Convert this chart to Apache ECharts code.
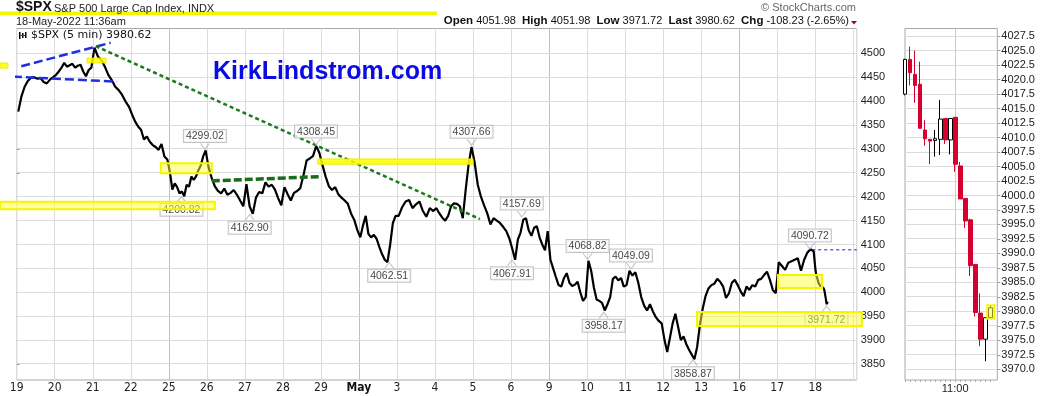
<!DOCTYPE html>
<html><head><meta charset="utf-8">
<script src="https://cdn.jsdelivr.net/npm/echarts@6/dist/echarts.min.js"></script>
<style>html,body{margin:0;padding:0;background:#fff}#c{width:1050px;height:396px}</style>
</head><body><div id="c"></div>
<script>
// ---------- DATA ----------
const tradingDays = ['04-19','04-20','04-21','04-22','04-25','04-26','04-27','04-28','04-29','05-02','05-03','05-04','05-05','05-06','05-09','05-10','05-11','05-12','05-13','05-16','05-17','05-18'];
const dayLabels = ['19','20','21','22','25','26','27','28','29','May','3','4','5','6','9','10','11','12','13','16','17','18'];

// intraday closes sampled evenly through each full session (Apr 19 .. May 17)
const priceByDay = [
  [4378, 4410, 4430, 4442, 4449, 4450, 4447, 4448, 4440, 4437, 4445, 4450],
  [4455, 4462, 4470, 4480, 4472, 4475, 4478, 4470, 4474, 4476, 4462, 4452, 4465, 4470],
  [4512, 4493, 4486, 4472, 4455, 4444, 4430, 4423, 4413, 4399, 4388],
  [4371, 4357, 4347, 4340, 4320, 4326, 4315, 4308, 4304, 4298, 4310, 4284, 4278],
  [4250, 4215, 4228, 4220, 4207, 4211, 4201, 4225, 4221, 4242, 4235, 4243, 4256, 4266, 4285, 4297],
  [4263, 4240, 4222, 4212, 4207, 4217, 4204, 4208, 4214, 4204, 4192, 4180],
  [4226, 4180, 4164, 4198, 4210, 4207, 4230, 4221, 4225, 4215, 4197, 4182],
  [4220, 4205, 4192, 4208, 4212, 4218, 4245, 4276, 4280, 4285, 4306, 4292],
  [4266, 4242, 4222, 4214, 4220, 4205, 4198, 4192, 4185, 4165, 4152, 4130],
  [4115, 4140, 4160, 4122, 4115, 4120, 4112, 4095, 4080, 4068, 4063, 4100, 4145, 4160],
  [4160, 4178, 4190, 4193, 4176, 4184, 4190, 4170, 4158, 4176, 4170],
  [4176, 4165, 4156, 4150, 4160, 4180, 4186, 4185, 4180, 4155, 4215, 4268, 4304],
  [4272, 4225, 4200, 4182, 4165, 4142, 4155, 4150, 4145, 4137, 4128, 4112],
  [4090, 4068, 4110, 4125, 4152, 4155, 4130, 4118, 4135, 4138, 4115, 4100, 4088, 4128],
  [4068, 4050, 4032, 4015, 4012, 4030, 4040, 4020, 4013, 4016, 4022, 4000, 3982, 3990],
  [4066, 4045, 4010, 3985, 3982, 3978, 3962, 3975, 3990, 4028, 4033, 4025, 4030, 4012],
  [4015, 4045, 4035, 4042, 4020, 3990, 3972, 3962, 3975, 3960, 3948, 3940, 3935],
  [3900, 3875, 3905, 3935, 3955, 3928, 3900, 3908, 3892, 3880, 3870, 3860, 3885, 3930],
  [3965, 3992, 4008, 4015, 4018, 4028, 4022, 4012, 3988, 3998, 4020, 4026, 4015],
  [4002, 3992, 4012, 4005, 4015, 4012, 4026, 4028, 4036, 4043, 4026, 4005, 3998],
  [4063, 4055, 4047, 4062, 4065, 4068, 4071, 4045, 4068, 4083, 4090, 4086]
];
// May 18 5-min closes before the zoom panel starts
const may18EarlyTimes = ['09:30','09:35','09:40','09:45','09:50','09:55','10:00','10:05'];
const may18EarlyCloses = [4046, 4040, 4036, 4031, 4028, 4025, 4020, 4018];

// 5-min candles of the right-hand panel (May 18)
const panelTimes = ['10:10','10:15','10:20','10:25','10:30','10:35','10:40','10:45','10:50','10:55','11:00','11:05','11:10','11:15','11:20','11:25','11:30','11:35'];
const panelOpen  = [4017.5, 4023.5, 4020.9, 4019.2, 4011.3, 4009.7, 4009.5, 4009.7, 4013.3, 4009.6, 4013.5, 4005.1, 3999.5, 3995.8, 3988.1, 3979.7, 3975.2, 3978.9];
const panelClose = [4023.5, 4021.2, 4019.0, 4011.6, 4009.8, 4009.4, 4009.8, 4013.2, 4009.6, 4013.3, 4005.4, 3999.4, 3995.6, 3987.9, 3979.8, 3975.2, 3978.9, 3980.62];
const panelLow   = [4017.3, 4019.0, 4016.0, 4011.6, 4008.6, 4005.4, 4006.7, 4007.0, 4008.9, 4007.1, 4004.1, 3999.4, 3994.4, 3986.1, 3979.1, 3974.0, 3971.4, 3978.9];
const panelHigh  = [4023.6, 4025.7, 4025.0, 4023.1, 4013.0, 4009.7, 4011.3, 4016.5, 4013.3, 4013.3, 4013.5, 4005.8, 3999.5, 3996.0, 3988.1, 3983.1, 3978.9, 3981.1];

const mainTicks = [3850, 3900, 3950, 4000, 4050, 4100, 4150, 4200, 4250, 4300, 4350, 4400, 4450, 4500];
const panelTicks = [3970.0, 3972.5, 3975.0, 3977.5, 3980.0, 3982.5, 3985.0, 3987.5, 3990.0, 3992.5, 3995.0, 3997.5, 4000.0, 4002.5, 4005.0, 4007.5, 4010.0, 4012.5, 4015.0, 4017.5, 4020.0, 4022.5, 4025.0, 4027.5];
const panelLabelTimes = ['11:00'];

// high / low callouts
const highTimes  = ['04-25 15:40','04-28 15:10','05-04 15:45','05-06 11:20','05-10 09:35','05-11 10:30','05-17 15:05'];
const highValues = [4299.02, 4308.45, 4307.66, 4157.69, 4068.82, 4049.09, 4090.72];
const lowTimes   = ['04-25 11:40','04-27 10:20','05-02 14:40','05-06 09:40','05-10 12:20','05-12 14:35','05-18 11:25'];
const lowValues  = [4200.82, 4162.90, 4062.51, 4067.91, 3958.17, 3858.87, 3971.72];

// annotations, in (trading-day index, price)
const blueUpper  = [[0.12, 4473], [2.47, 4522]];
const blueLower  = [[-0.44, 4452.5], [2.64, 4440.6]];
const greenLong  = [[2.077, 4515], [12.18, 4153.3]];
const greenBase  = [[5.13, 4233], [7.98, 4242]];
const prevClose  = 4088.85;
const prevCloseFrom = 20.92;
const solidMarks = [[1.85, 4490, 2.35, 4480], [7.92, 4279, 12.0, 4268], [-0.44, 4479.7, -0.23, 4469.2]];
const boxMarks   = [[3.79, 4270, 5.13, 4249], [-0.44, 4189.5, 5.21, 4173.6], [20.02, 4036, 21.18, 4009], [17.89, 3958.6, 22.23, 3929.4]];
const panelBoxMarks = [[691.7, 3981.1, 699, 3978.7]];

const mainXMax = 22.09, mainYMin = 3816.5, mainYMax = 4551.9;
const panelXMin = 610, panelXMax = 702, panelYMin = 3968.15, panelYMax = 4028.83;

// ---------- helpers ----------
const toMin = t => { const [h, m] = t.split(':').map(Number); return h * 60 + m; };
const toX = s => { const [d, t] = s.split(' '); return tradingDays.indexOf(d) + (toMin(t) - 570) / 390; };

const priceData = [];
priceByDay.forEach((arr, d) => arr.forEach((v, i) => priceData.push([d + (i + 0.5) / arr.length, v])));
may18EarlyTimes.forEach((t, i) => priceData.push([toX('05-18 ' + t) + 2.5 / 390, may18EarlyCloses[i]]));
panelTimes.forEach((t, i) => priceData.push([toX('05-18 ' + t) + 2.5 / 390, panelClose[i]]));

const candleData = panelTimes.map((t, i) => [toMin(t), panelOpen[i], panelClose[i], panelLow[i], panelHigh[i]]);

const FONT = '"Liberation Sans", Arial, sans-serif';
const NARROW = '"Liberation Sans Narrow", "Arial Narrow", "DejaVu Sans Condensed", "Liberation Sans", sans-serif';
const GRID = '#dcdcdc';
const chart = echarts.init(document.getElementById('c'), null, { renderer: 'canvas' });

function trend(data, color, width, type, xi, yi, z) {
  return { type: 'line', xAxisIndex: xi || 0, yAxisIndex: yi || 0, data: data, showSymbol: false, clip: false, silent: true,
    z: z === undefined ? 3 : z, lineStyle: { color: color, width: width, type: type }, animation: false };
}
function rectSeries(data, xi, yi, fill, stroke, lw) {
  return { type: 'custom', xAxisIndex: xi, yAxisIndex: yi, data: data, clip: false, silent: true, z: 6,
    encode: { x: [0, 2], y: [1, 3] },
    renderItem: (params, api) => {
      const p1 = api.coord([api.value(0), api.value(1)]);
      const p2 = api.coord([api.value(2), api.value(3)]);
      return { type: 'rect', shape: { x: p1[0], y: p1[1], width: p2[0] - p1[0], height: p2[1] - p1[1] },
        style: { fill: fill, stroke: stroke, lineWidth: lw } };
    } };
}
// grid lines: thin rect strips placed through the axes' scales
function gridStrips(xi, yi, segs, color) {
  return { type: 'custom', xAxisIndex: xi, yAxisIndex: yi, data: segs, clip: false, silent: true, z: 2,
    encode: { x: [0, 2], y: [1, 3] },
    renderItem: (params, api) => {
      const p1 = api.coord([api.value(0), api.value(1)]);
      const p2 = api.coord([api.value(2), api.value(3)]);
      const horiz = Math.abs(p1[1] - p2[1]) < 0.01;
      const shape = horiz
        ? { x: Math.min(p1[0], p2[0]), y: Math.round(p1[1] - 0.5), width: Math.abs(p2[0] - p1[0]), height: 1 }
        : { x: Math.round(p1[0] - 0.5), y: Math.min(p1[1], p2[1]), width: 1, height: Math.abs(p2[1] - p1[1]) };
      return { type: 'rect', shape: shape, style: { fill: color } };
    } };
}

const calloutLabel = pos => ({ show: true, position: pos, distance: 1, formatter: p => p.value[1].toFixed(2),
  backgroundColor: '#fff', borderColor: '#b5b5b5', borderWidth: 1, padding: [1, 2, 0, 2], lineHeight: 11,
  fontSize: 10.5, color: '#111', fontFamily: FONT });

const option = {
  animation: false,
  backgroundColor: '#fff',
  grid: [
    { left: 16.7, top: 28.5, width: 840, height: 351.5, show: true, borderColor: '#a8a8a8', borderWidth: 1, backgroundColor: 'transparent' },
    { left: 905, top: 28.5, width: 92.3, height: 351.5, show: true, borderColor: '#a8a8a8', borderWidth: 1, backgroundColor: 'transparent' }
  ],
  xAxis: [
    { type: 'value', gridIndex: 0, min: 0, max: mainXMax, interval: 1,
      axisLine: { show: false }, axisTick: { show: false },
      splitLine: { show: true, lineStyle: { color: [GRID, GRID, GRID, GRID, '#c0c0c0'], width: 1 } },
      axisLabel: { margin: 2, fontSize: 12, color: '#222', fontFamily: NARROW,
        formatter: v => { const l = dayLabels[Math.round(v)]; if (l === undefined) return ''; return l === 'May' ? '{b|May}' : l; },
        rich: { b: { fontWeight: 'bold', fontSize: 12, fontFamily: NARROW, color: '#111' } } } },
    { type: 'value', gridIndex: 1, min: panelXMin, max: panelXMax,
      axisLine: { show: false },
      axisTick: { show: true, length: 2, customValues: panelTimes.map(toMin), lineStyle: { color: '#aaa' } },
      splitLine: { show: false },
      axisLabel: { margin: 3, fontSize: 11, color: '#222', fontFamily: FONT, customValues: panelLabelTimes.map(toMin),
        formatter: v => { const h = Math.floor(v / 60), m = v % 60; return h + ':' + String(m).padStart(2, '0'); } } }
  ],
  yAxis: [
    { type: 'value', gridIndex: 0, position: 'right', min: mainYMin, max: mainYMax,
      axisLine: { show: false },
      axisTick: { show: true, length: 3, customValues: mainTicks, lineStyle: { color: '#999' } },
      splitLine: { show: false },
      axisLabel: { margin: 4, fontSize: 11, color: '#222', fontFamily: FONT, customValues: mainTicks, formatter: v => String(v) } },
    { type: 'value', gridIndex: 1, position: 'right', min: panelYMin, max: panelYMax,
      axisLine: { show: false },
      axisTick: { show: true, length: 3, customValues: panelTicks, lineStyle: { color: '#999' } },
      splitLine: { show: false },
      axisLabel: { margin: 4, fontSize: 11, color: '#222', fontFamily: FONT, customValues: panelTicks, formatter: v => v.toFixed(1) } }
  ],
  series: [
    gridStrips(0, 0, mainTicks.map(v => [0, v, mainXMax, v]), GRID),
    gridStrips(1, 1, panelTicks.map(v => [panelXMin, v, panelXMax, v]), GRID),
    gridStrips(1, 1, panelLabelTimes.map(t => [toMin(t), panelYMin, toMin(t), panelYMax]), '#cccccc'),
    { type: 'line', xAxisIndex: 0, yAxisIndex: 0, data: priceData, showSymbol: false, z: 2,
      lineStyle: { color: '#000', width: 2.2 }, silent: true },
    trend(blueUpper, '#1f2fe0', 2.5, [9, 4]),
    trend(blueLower, '#1f2fe0', 2.5, [9, 4]),
    trend(greenLong, '#1b7a1b', 2.5, [4, 3]),
    trend(greenBase, '#1a6b1a', 3.5, [8, 3]),
    trend([[prevCloseFrom, prevClose], [mainXMax, prevClose]], '#1a1ad0', 1, [3, 3]),
    { type: 'scatter', xAxisIndex: 0, yAxisIndex: 0, z: 4, silent: true,
      data: highTimes.map((t, i) => [toX(t), highValues[i]]),
      symbol: 'path://M0,0L5,6L10,0', symbolSize: [9, 6], symbolOffset: [0, -3],
      itemStyle: { color: 'rgba(0,0,0,0)', borderColor: '#b5b5b5', borderWidth: 1 },
      label: calloutLabel('top') },
    { type: 'scatter', xAxisIndex: 0, yAxisIndex: 0, z: 4, silent: true,
      data: lowTimes.map((t, i) => [toX(t), lowValues[i]]),
      symbol: 'path://M0,6L5,0L10,6', symbolSize: [9, 6], symbolOffset: [0, 3],
      itemStyle: { color: 'rgba(0,0,0,0)', borderColor: '#b5b5b5', borderWidth: 1 },
      label: calloutLabel('bottom') },
    rectSeries(solidMarks, 0, 0, 'rgba(255,255,0,0.85)', 'rgba(235,235,0,1)', 1),
    rectSeries(boxMarks, 0, 0, 'rgba(255,255,60,0.5)', 'rgba(245,245,0,1)', 2),
    { type: 'candlestick', xAxisIndex: 1, yAxisIndex: 1, data: candleData, barWidth: 4.3, z: 3,
      encode: { x: 0, y: [1, 2, 3, 4] },
      itemStyle: { color: '#ffffff', color0: '#d6002f', borderColor: '#000', borderColor0: '#d6002f', borderWidth: 1 } },
    rectSeries(panelBoxMarks, 1, 1, 'rgba(255,255,60,0.55)', 'rgba(245,245,0,1)', 1.5)
  ],
  graphic: [
    { type: 'rect', z: 1, shape: { x: 0, y: 11.5, width: 437, height: 3.5 }, style: { fill: '#f5f500' } },
    { type: 'text', z: 2, x: 16, y: 14, style: { text: '$SPX', font: 'bold 14px ' + FONT, fill: '#111', textVerticalAlign: 'bottom' } },
    { type: 'text', z: 2, x: 54, y: 14, style: { text: 'S&P 500 Large Cap Index, INDX', font: '11px ' + FONT, fill: '#222', textVerticalAlign: 'bottom' } },
    { type: 'text', z: 2, x: 16, y: 27.5, style: { text: '18-May-2022 11:36am', font: '11px ' + FONT, fill: '#222', textVerticalAlign: 'bottom' } },
    { type: 'text', z: 2, x: 856, y: 13, style: { text: '\u00A9 StockCharts.com', font: '11px ' + FONT, fill: '#666', textAlign: 'right', textVerticalAlign: 'bottom' } },
    { type: 'text', z: 2, x: 849, y: 27, style: {
        text: '{b|Open} 4051.98  {b|High} 4051.98  {b|Low} 3971.72  {b|Last} 3980.62  {b|Chg} -108.23 (-2.65%)',
        font: '11px ' + FONT, fill: '#111', textAlign: 'right', textVerticalAlign: 'bottom',
        rich: { b: { font: 'bold 11.5px ' + FONT, fill: '#111' } } } },
    { type: 'polygon', z: 2, shape: { points: [[851, 21], [857, 21], [854, 24.5]] }, style: { fill: '#9b0a2e' } },
    { type: 'text', z: 2, x: 31, y: 40.5, style: { text: '$SPX (5 min) 3980.62', font: '11px "DejaVu Sans", sans-serif', fill: '#111', textVerticalAlign: 'bottom' } },
    { type: 'group', z: 2, children: [
        { type: 'rect', shape: { x: 19, y: 32, width: 1.5, height: 7 }, style: { fill: '#000' } },
        { type: 'rect', shape: { x: 22, y: 33, width: 1.5, height: 5 }, style: { fill: '#000' } },
        { type: 'rect', shape: { x: 25, y: 32, width: 1.5, height: 6 }, style: { fill: '#000' } },
        { type: 'rect', shape: { x: 20.5, y: 35, width: 5, height: 1 }, style: { fill: '#c0002a' } }
    ] },
    { type: 'text', z: 7, x: 213, y: 84.5, style: { text: 'KirkLindstrom.com', font: 'bold 25px ' + FONT, fill: '#0a0ae6', textVerticalAlign: 'bottom' } }
  ]
};
chart.setOption(option);
</script>
</body></html>
